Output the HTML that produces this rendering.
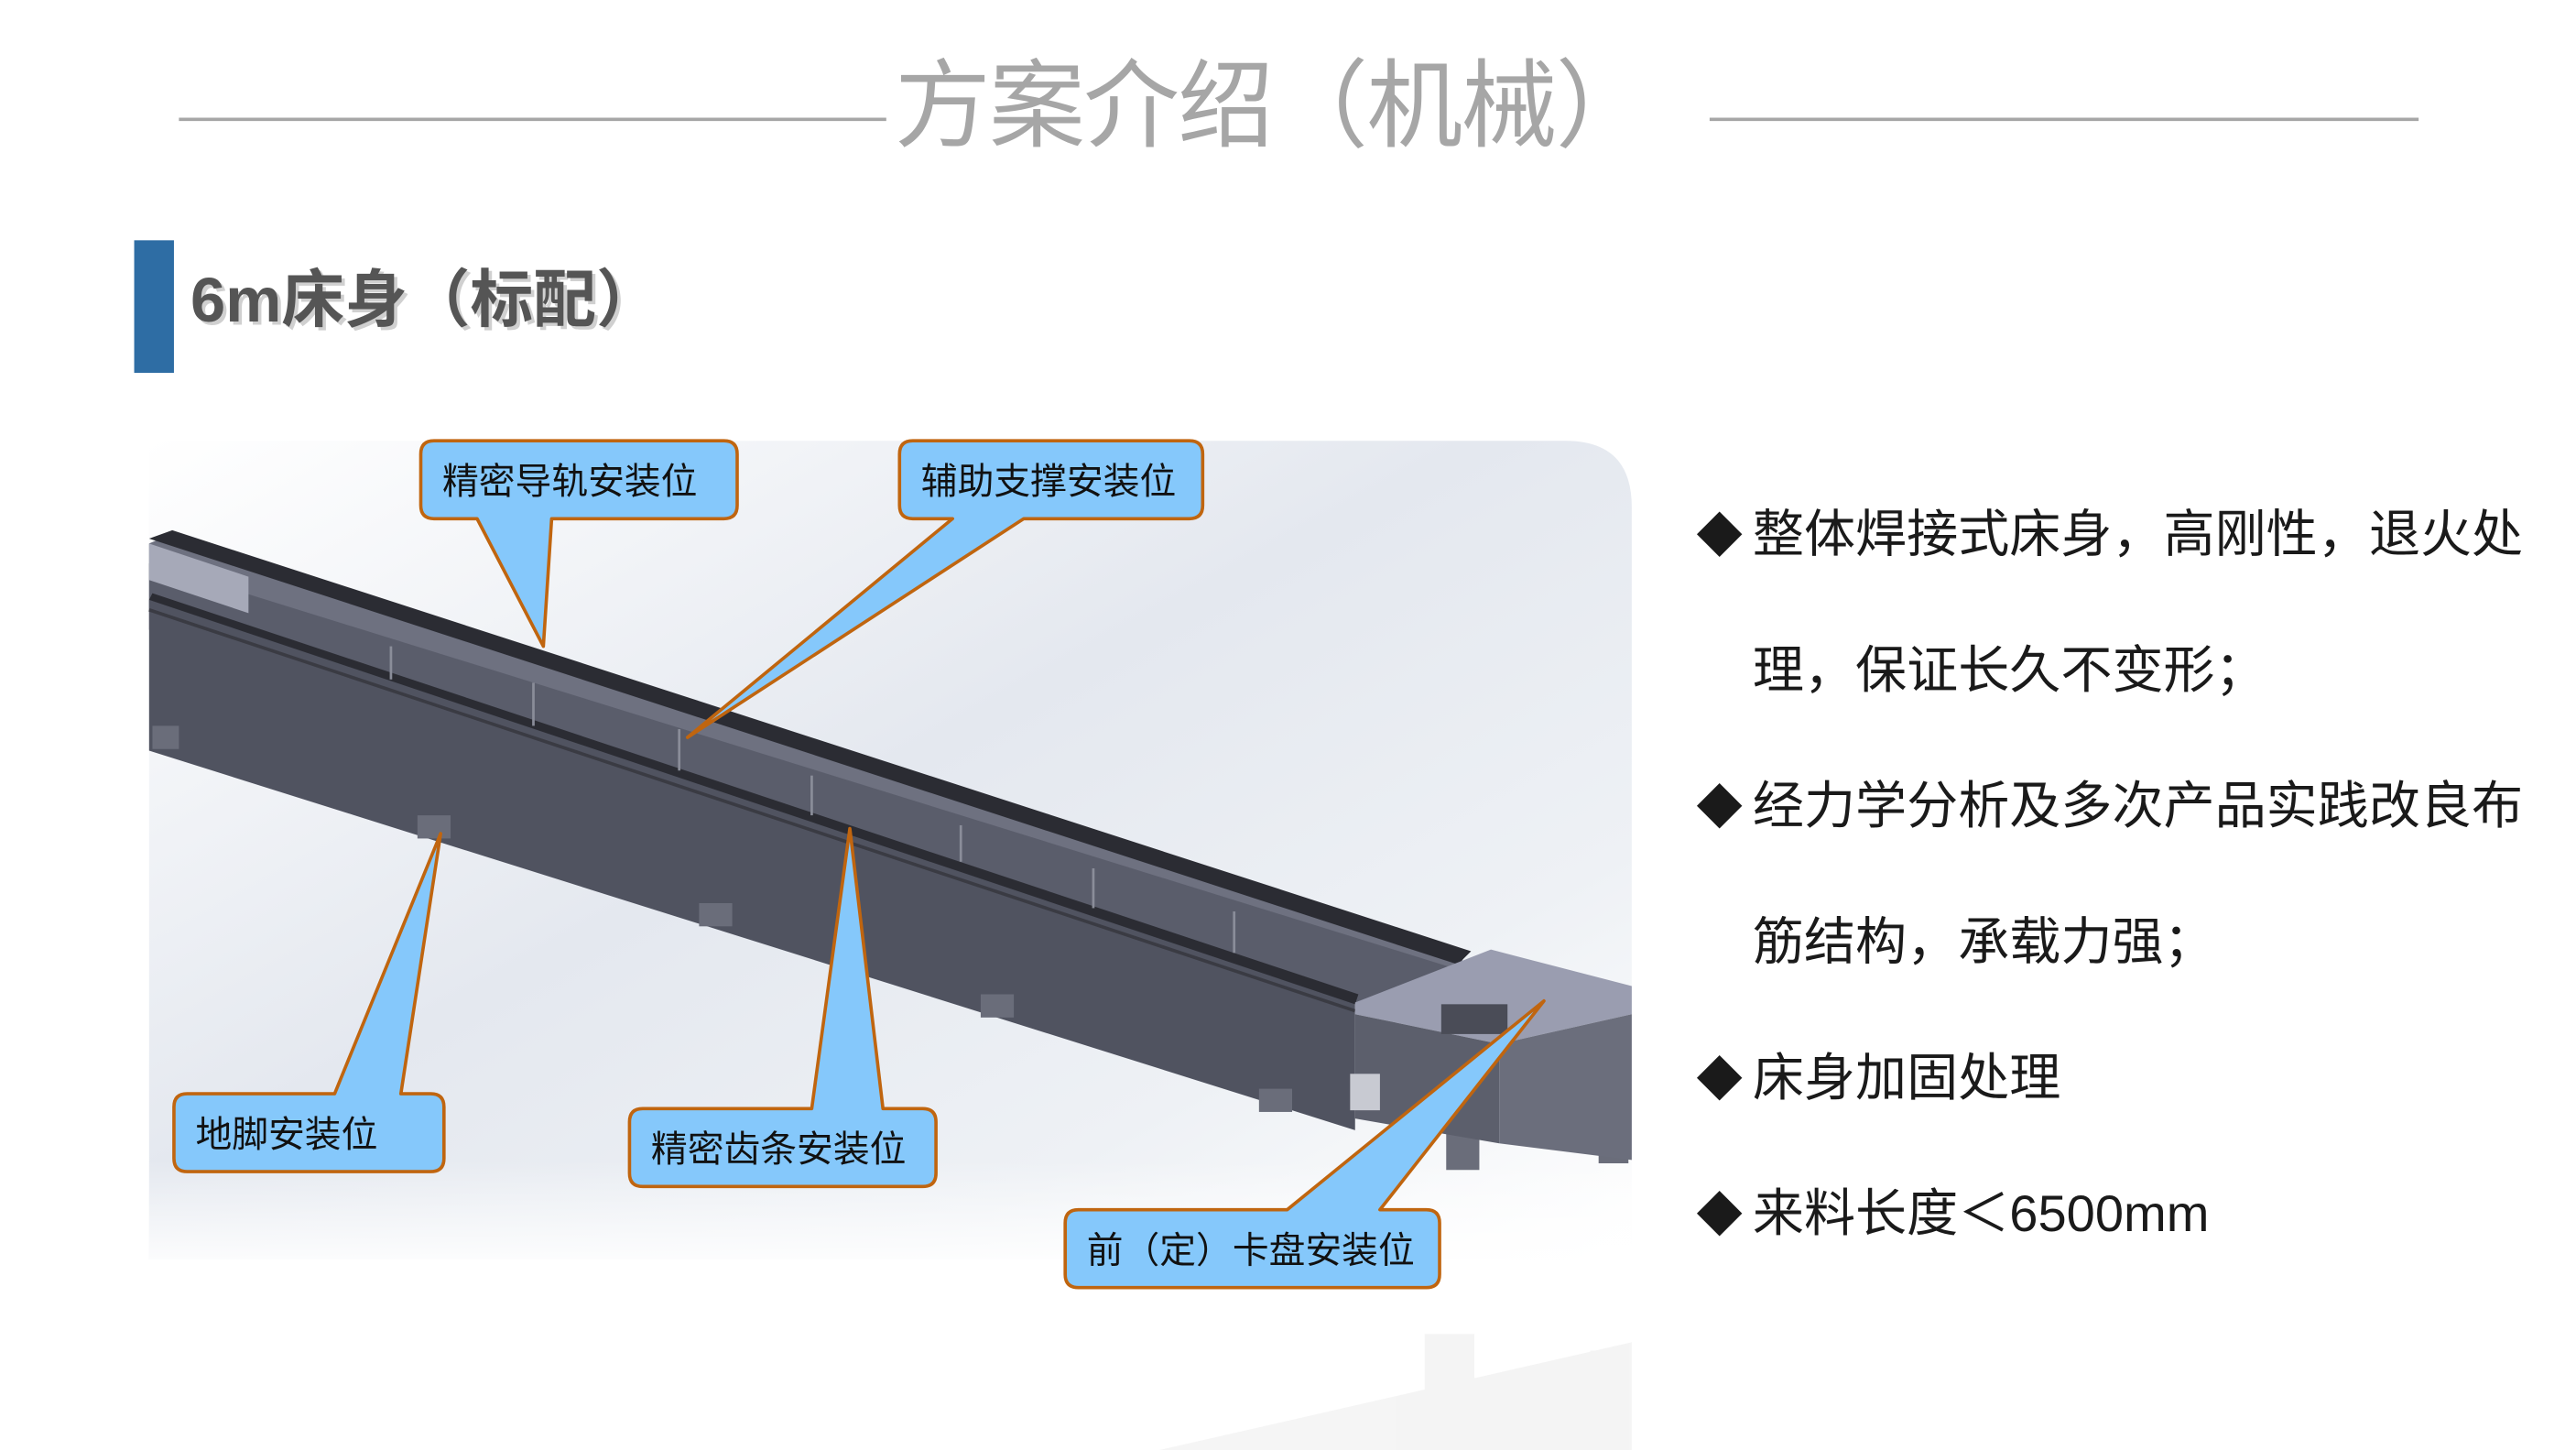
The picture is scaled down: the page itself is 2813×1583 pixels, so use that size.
<!DOCTYPE html>
<html><head><meta charset="utf-8">
<style>
html,body{margin:0;padding:0;background:#fff;}
svg{display:block;}
text{font-family:"Liberation Sans","Noto Sans CJK SC",sans-serif;}
</style></head>
<body>
<svg width="2813" height="1583" viewBox="0 0 1555 875" preserveAspectRatio="none" xmlns="http://www.w3.org/2000/svg">
<defs>
<linearGradient id="bg" x1="0" y1="0" x2="1" y2="1">
<stop offset="0" stop-color="#ffffff"/>
<stop offset="0.45" stop-color="#e4e8ef"/>
<stop offset="0.75" stop-color="#eef1f5"/>
<stop offset="1" stop-color="#ffffff"/>
</linearGradient>
<linearGradient id="fade" x1="0" y1="0" x2="0" y2="1">
<stop offset="0" stop-color="#fff" stop-opacity="0"/>
<stop offset="1" stop-color="#fff" stop-opacity="1"/>
</linearGradient>
</defs>
<rect width="1555" height="875" fill="#fff"/>
<!-- title -->
<line x1="108" y1="72" x2="535" y2="72" stroke="#a6a6a6" stroke-width="2"/>
<line x1="1032" y1="72" x2="1460" y2="72" stroke="#a6a6a6" stroke-width="2"/>
<text x="768" y="84" font-size="58" fill="#a6a6a6" text-anchor="middle" letter-spacing="-1">方案介绍（机械）</text>
<!-- subtitle -->
<rect x="81" y="145" width="24" height="80" fill="#2e6da4"/>
<text x="117" y="196" font-size="38" font-weight="bold" fill="#d0d0d0">6m床身（标配）</text>
<text x="115" y="194" font-size="38" font-weight="bold" fill="#555">6m床身（标配）</text>
<!-- image bg -->
<path d="M90 266 H945 Q985 266 985 306 V760 H90 Z" fill="url(#bg)"/>
<rect x="90" y="700" width="895" height="70" fill="url(#fade)"/>
<!-- reflection -->
<g opacity="0.06" fill="#555">
<polygon points="700,875 985,810 985,875"/>
<rect x="860" y="805" width="30" height="40"/>
<rect x="960" y="815" width="20" height="40"/>
</g>
<!-- machine -->
<polygon points="90,328 104,322 885,575 880,585 818,603 90,368" fill="#6e7180"/>
<polygon points="90,340 880,585 818,605 90,380" fill="#5a5d6b"/>
<polygon points="90,362 818,605 818,682 90,453" fill="#505360"/>
<polygon points="90,325 104,320 888,574 880,582" fill="#2b2c33"/>
<polygon points="90,362 92,358 820,600 818,606" fill="#2b2c33"/>
<line x1="90" y1="368" x2="818" y2="610" stroke="#3a3b43" stroke-width="2"/>
<g stroke="#8a8d99" stroke-width="1.5">
<line x1="236" y1="390" x2="236" y2="410"/>
<line x1="322" y1="412" x2="322" y2="438"/>
<line x1="410" y1="440" x2="410" y2="465"/>
<line x1="490" y1="468" x2="490" y2="492"/>
<line x1="580" y1="498" x2="580" y2="520"/>
<line x1="660" y1="524" x2="660" y2="548"/>
<line x1="745" y1="550" x2="745" y2="575"/>
</g>
<polygon points="90,328 150,348 150,370 90,350" fill="#a6a9b8"/>
<g fill="#6a6d7a">
<rect x="92" y="438" width="16" height="14"/>
<rect x="252" y="492" width="20" height="14"/>
<rect x="422" y="545" width="20" height="14"/>
<rect x="592" y="600" width="20" height="14"/>
<rect x="760" y="657" width="20" height="14"/>
<rect x="873" y="680" width="20" height="26"/>
<rect x="965" y="688" width="18" height="14"/>
</g>
<polygon points="818,605 900,573 985,595 985,612 905,630 818,612" fill="#9a9db0"/>
<polygon points="818,612 905,630 905,690 818,675" fill="#5c5f6c"/>
<polygon points="905,630 985,612 985,700 905,690" fill="#6b6e7c"/>
<rect x="870" y="606" width="40" height="18" fill="#4a4c57"/>
<rect x="815" y="648" width="18" height="22" fill="#c8cad2"/>
<!-- callouts -->
<g fill="#85c8fb" stroke="#c0650f" stroke-width="2" stroke-linejoin="round">
<path d="M262 266 H437 Q445 266 445 274 V305 Q445 313 437 313 H333 L328 390 L288 313 H262 Q254 313 254 305 V274 Q254 266 262 266 Z"/>
<path d="M551 266 H718 Q726 266 726 274 V305 Q726 313 718 313 H618 L415 445 L575 313 H551 Q543 313 543 305 V274 Q543 266 551 266 Z"/>
<path d="M113 660 H202 L266 503 L242 660 H260 Q268 660 268 668 V699 Q268 707 260 707 H113 Q105 707 105 699 V668 Q105 660 113 660 Z"/>
<path d="M388 669 H490 L513 500 L533 669 H557 Q565 669 565 677 V708 Q565 716 557 716 H388 Q380 716 380 708 V677 Q380 669 388 669 Z"/>
<path d="M651 730 H777 L932 604 L833 730 H861 Q869 730 869 738 V769 Q869 777 861 777 H651 Q643 777 643 769 V738 Q643 730 651 730 Z"/>
</g>
<g font-size="22" fill="#111">
<text x="267" y="298">精密导轨安装位</text>
<text x="556" y="298">辅助支撑安装位</text>
<text x="118" y="692">地脚安装位</text>
<text x="393" y="701">精密齿条安装位</text>
<text x="656" y="762">前（定）卡盘安装位</text>
</g>
<!-- right text -->
<g font-size="31" fill="#1a1a1a">
<text x="1024" y="333" font-size="28">◆</text>
<text x="1058" y="333">整体焊接式床身，高刚性，退火处</text>
<text x="1058" y="415">理，保证长久不变形；</text>
<text x="1024" y="497" font-size="28">◆</text>
<text x="1058" y="497">经力学分析及多次产品实践改良布</text>
<text x="1058" y="579">筋结构，承载力强；</text>
<text x="1024" y="661" font-size="28">◆</text>
<text x="1058" y="661">床身加固处理</text>
<text x="1024" y="743" font-size="28">◆</text>
<text x="1058" y="743">来料长度＜6500mm</text>
</g>
</svg>
</body></html>
